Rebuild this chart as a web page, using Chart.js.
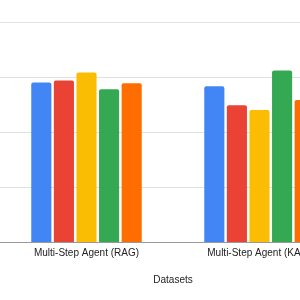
<!DOCTYPE html>
<html>
<head>
<meta charset="utf-8">
<script src="https://cdn.jsdelivr.net/npm/chart.js@4.4.1/dist/chart.umd.min.js"></script>
<style>
  html, body { margin: 0; padding: 0; overflow: hidden; background: #fff; }
  #wrap { width: 300px; height: 300px; overflow: hidden; position: relative; }
  #chart { position: absolute; left: 0; top: 0; }
</style>
</head>
<body>
<div id="wrap"><canvas id="chart" width="346" height="300"></canvas></div>
<script>
const categories = ["Multi-Step Agent (RAG)", "Multi-Step Agent (KAG)"];
const seriesNames = ["Series A", "Series B", "Series C", "Series D", "Series E"];
const seriesA = [0.726, 0.709];
const seriesB = [0.735, 0.623];
const seriesC = [0.771, 0.601];
const seriesD = [0.695, 0.780];
const seriesE = [0.722, 0.646];

const colors = ["#4285F4", "#EA4335", "#FBBC04", "#34A853", "#FF6D01"];
const allSeries = [seriesA, seriesB, seriesC, seriesD, seriesE];

const datasets = allSeries.map((vals, i) => ({
  label: seriesNames[i],
  data: vals,
  backgroundColor: colors[i],
  borderRadius: { topLeft: 2, topRight: 2 },
  borderSkipped: "bottom",
  categoryPercentage: 0.653,
  barPercentage: 0.89
}));

const ctx = document.getElementById("chart").getContext("2d");
new Chart(ctx, {
  type: "bar",
  data: { labels: categories, datasets },
  options: {
    responsive: false,
    animation: false,
    layout: { padding: { top: 22, left: 0, right: 0, bottom: 0 } },
    plugins: {
      legend: { display: false },
      tooltip: { enabled: false }
    },
    scales: {
      x: {
        grid: { display: false, drawTicks: false },
        border: { display: true, color: "#999", width: 1 },
        ticks: {
          color: "#222",
          font: { family: "Arial, 'Liberation Sans'", size: 10 },
          padding: 5,
          maxRotation: 0,
          autoSkip: false
        },
        title: {
          display: true,
          text: "Datasets",
          color: "#222",
          font: { family: "Arial, 'Liberation Sans'", size: 10 },
          padding: { top: 10, bottom: 13.4 }
        }
      },
      y: {
        min: 0,
        max: 1,
        ticks: { display: false, stepSize: 0.25 },
        grid: { color: "#e0e0e0", drawTicks: false },
        border: { display: false }
      }
    }
  }
});
</script>
</body>
</html>
